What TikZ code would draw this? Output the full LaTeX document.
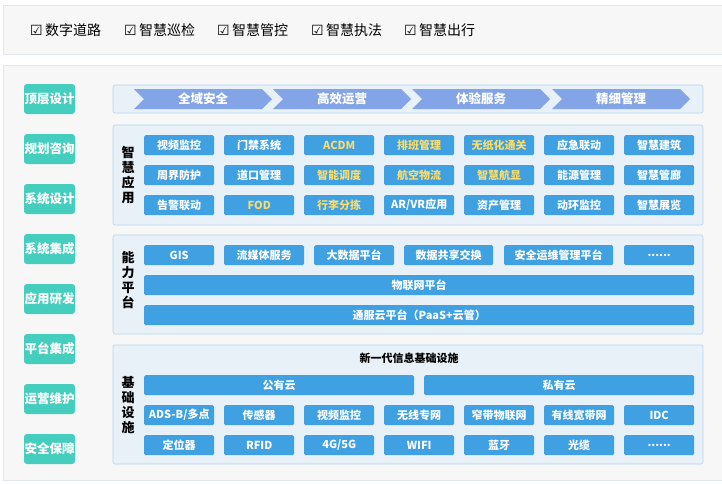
\documentclass[tikz,border=0pt]{standalone}
\usepackage{fontspec}
\setmainfont{Noto Sans CJK SC}
\newfontfamily\symf{DejaVu Sans}
\newcommand\mysl{/}
\newcommand\mydots{......}
\definecolor{bgc}{HTML}{F7F7F7}
\definecolor{bdc}{HTML}{E3E9EF}
\definecolor{panc}{HTML}{E8F0F8}
\definecolor{panb}{HTML}{B5D6F0}
\definecolor{cellc}{HTML}{3FA0E2}
\definecolor{grn}{HTML}{45CDBD}
\definecolor{chev}{HTML}{84A4E8}
\definecolor{ylw}{HTML}{F7DC6F}
\begin{document}
\begin{tikzpicture}[x=1pt,y=-1pt,
  panel/.style={draw=panb,fill=panc,rounded corners=2pt,line width=0.6pt},
  cell/.style={fill=cellc,rounded corners=1.5pt,inner sep=0pt,text=white,font=\fontsize{11}{12}\selectfont\bfseries,anchor=north west},
  ycell/.style={cell,text=ylw},
  gbtn/.style={fill=grn,rounded corners=3pt,inner sep=0pt,minimum width=51pt,minimum height=30pt,text=white,font=\fontsize{12.5}{14}\selectfont\bfseries},
  vlab/.style={align=center,font=\fontsize{13}{15}\selectfont\bfseries,inner sep=0pt},
  chk/.style={font=\fontsize{14}{16}\selectfont,anchor=west,inner sep=0pt}]
\useasboundingbox (0,0) rectangle (722,483);
\fill[white] (0,0) rectangle (722,483);
% top bar
\draw[bdc,fill=bgc] (3,5) rectangle (722,54);
\foreach \t/\x [count=\i] in {数字道路/30,智慧巡检/124,智慧管控/217,智慧执法/311,智慧出行/404}
  \node[chk] (top\i) at (\x,30) {{\symf ☑}\,\t};
% main box
\draw[bdc,fill=bgc] (3,65) rectangle (722,480);
\foreach \t [count=\i] in {顶层设计,规划咨询,系统设计,系统集成,应用研发,平台集成,运营维护,安全保障}
  \node[gbtn] (g\i) at (49.5,{49+50*\i}) {\t};
% top layer
\draw[panel] (113,85) rectangle (703,113);
\foreach \t/\x [count=\i] in {全域安全/134,高效运营/273,体验服务/412,精细管理/552}{
  \fill[chev] (\x,89) -- ++(128,0) -- ++(10,10) -- ++(-10,10) -- ++(-128,0) -- ++(10,-10) -- cycle;
  \node[text=white,font=\fontsize{12.5}{14}\selectfont\bfseries] (c\i) at (\x+69,99) {\t};}
% application
\draw[panel] (113,125) rectangle (703,225);
\node[vlab] (l1) at (128,175) {智\\慧\\应\\用};
\foreach \r/\row in {0/{视频监控/cell,门禁系统/cell,ACDM/ycell,排班管理/ycell,无纸化通关/ycell,应急联动/cell,智慧建筑/cell},
                      1/{周界防护/cell,道口管理/cell,智能调度/ycell,航空物流/ycell,智慧航显/ycell,能源管理/cell,智慧管廊/cell},
                      2/{告警联动/cell,FOD/ycell,行李分拣/ycell,AR\mysl VR应用/cell,资产管理/cell,动环监控/cell,智慧展览/cell}}
  \foreach \t/\s [count=\c] in \row
    \node[\s,minimum width=70pt,minimum height=20pt] (a\r-\c) at ({64+80*\c},{135+30*\r}) {\t};
% capability
\draw[panel] (113,235) rectangle (703,334);
\node[vlab] (l2) at (128,280) {能\\力\\平\\台};
\foreach \t/\x/\w [count=\i] in {GIS/144/70,流媒体服务/224/80,大数据平台/314/80,数据共享交换/404/89,安全运维管理平台/504/109,\mydots/624/70}
  \node[cell,minimum width=\w pt,minimum height=20pt] (p\i) at (\x,245) {\t};
\node[cell,minimum width=550pt,minimum height=20pt] (iot) at (144,275) {物联网平台};
\node[cell,minimum width=550pt,minimum height=20pt] (cloud) at (144,305) {通服云平台（PaaS+云管）};
% infrastructure
\draw[panel] (113,345) rectangle (703,464);
\node[vlab] (l3) at (128,405) {基\\础\\设\\施};
\node[font=\fontsize{11}{12}\selectfont\bfseries] (ttl) at (409,358) {新一代信息基础设施};
\node[cell,minimum width=270pt,minimum height=20pt] (pub) at (144,375) {公有云};
\node[cell,minimum width=270pt,minimum height=20pt] (pri) at (424,375) {私有云};
\foreach \r/\row in {0/{ADS-B\mysl 多点,传感器,视频监控,无线专网,窄带物联网,有线宽带网,IDC},
                      1/{定位器,RFID,4G\mysl 5G,WIFI,蓝牙,光缆,\mydots}}
  \foreach \t [count=\c] in \row
    \node[cell,minimum width=70pt,minimum height=20pt] (b\r-\c) at ({64+80*\c},{405+30*\r}) {\t};
\end{tikzpicture}
\end{document}
